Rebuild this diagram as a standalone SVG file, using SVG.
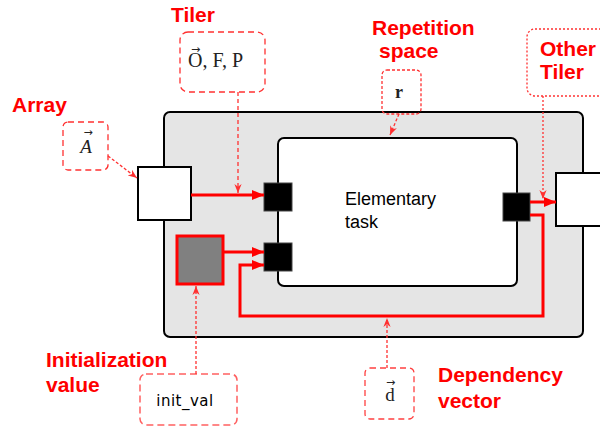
<svg xmlns="http://www.w3.org/2000/svg" width="600" height="428" viewBox="0 0 600 428">
<style>
.lbl{font-family:"Liberation Sans",Arial,sans-serif;font-weight:bold;font-size:21px;fill:#ff0000}
.red{fill:none;stroke:#ff0000;stroke-width:3}
.ann{fill:none;stroke:#ff3030;stroke-width:1.3}
.math{font-family:"Liberation Serif","DejaVu Serif",serif;fill:#222}
.vec{font-family:"DejaVu Sans",sans-serif;font-size:11px;fill:#222}
</style>
<defs>
<marker id="ah" viewBox="0 0 12 10" refX="12" refY="5" markerWidth="12" markerHeight="10" markerUnits="userSpaceOnUse" orient="auto">
<path d="M0,0 L12,5 L0,10 z" fill="#ff0000"/>
</marker>
<marker id="ad" viewBox="0 0 10 10" refX="10" refY="5" markerWidth="9" markerHeight="9" markerUnits="userSpaceOnUse" orient="auto">
<path d="M0,1 L10,5 L0,9 L3,5 z" fill="#ff3030"/>
</marker>
</defs>

<g id="container">
<rect x="164" y="112" width="419" height="225" rx="6" fill="#e5e5e5" stroke="#000" stroke-width="2"/>
</g>
<g id="elementary-task">
<rect x="278" y="138" width="239" height="148" rx="6" fill="#fff" stroke="#000" stroke-width="2"/>
<text x="345" y="205" font-family="Liberation Sans,Arial,sans-serif" font-size="18" fill="#000">Elementary</text>
<text x="345" y="228" font-family="Liberation Sans,Arial,sans-serif" font-size="18" fill="#000">task</text>
</g>
<g id="array-port">
<rect x="138" y="167" width="53" height="53" fill="#fff" stroke="#000" stroke-width="2"/>
</g>
<g id="output-port">
<rect x="556" y="173" width="50" height="53" fill="#fff" stroke="#000" stroke-width="2"/>
</g>
<g id="init-box">
<rect x="177" y="236" width="46" height="48" fill="#808080" stroke="#ff0000" stroke-width="3"/>
</g>
<g id="in-port-1"><rect x="264" y="183" width="28" height="28" fill="#000" stroke="#444" stroke-width="1"/></g>
<g id="in-port-2"><rect x="264" y="243" width="28" height="28" fill="#000" stroke="#444" stroke-width="1"/></g>
<g id="out-port"><rect x="503" y="193" width="27" height="28" fill="#000" stroke="#444" stroke-width="1"/></g>

<g id="tiler-ann">
<rect x="180" y="32" width="85" height="60" rx="8" class="ann" stroke-dasharray="6 4"/>
<text x="188" y="67" class="math" font-size="20">O, F, P</text>
<text x="195.5" y="53" class="vec" text-anchor="middle">→</text>
</g>
<g id="array-ann">
<rect x="63" y="122" width="45" height="48" rx="5" class="ann" stroke-dasharray="6 4"/>
<text x="86" y="153" class="math" font-size="19" font-style="italic" text-anchor="middle">A</text>
<text x="88" y="136" class="vec" font-size="10" text-anchor="middle">→</text>
</g>
<g id="rep-ann">
<rect x="382" y="70" width="39" height="44" rx="5" class="ann" stroke-dasharray="3 2"/>
<text x="399" y="98" class="math" font-size="18" font-weight="bold" text-anchor="middle">r</text>
</g>
<g id="other-tiler-ann">
<rect x="527" y="29" width="90" height="67" rx="8" class="ann" stroke-dasharray="2 2"/>
</g>
<g id="init-ann">
<rect x="140" y="374" width="97" height="51" rx="6" fill="none" stroke="#ff6060" stroke-width="1.5" stroke-dasharray="7 4"/>
<text x="185" y="406" font-family="DejaVu Sans,sans-serif" font-size="15" fill="#000" text-anchor="middle" letter-spacing="0.5">init_val</text>
</g>
<g id="dep-ann">
<rect x="365" y="368" width="49" height="51" rx="5" fill="none" stroke="#ff4040" stroke-width="1.3" stroke-dasharray="6 4"/>
<text x="390" y="401" class="math" font-size="19" text-anchor="middle">d</text>
<text x="390.5" y="386" class="vec" font-size="10" text-anchor="middle">→</text>
</g>

<g id="connectors">
<line x1="191" y1="195" x2="264" y2="195" class="red" marker-end="url(#ah)"/>
<line x1="223" y1="252" x2="264" y2="252" class="red" marker-end="url(#ah)"/>
<polyline points="530,215 543,215 543,316 240,316 240,265 264,265" class="red" marker-end="url(#ah)"/>
<line x1="530" y1="202" x2="556" y2="202" class="red" marker-end="url(#ah)"/>
<line x1="238" y1="92" x2="238" y2="193" class="ann" stroke-dasharray="4 3" marker-end="url(#ad)"/>
<line x1="108" y1="156" x2="137" y2="178" class="ann" stroke-dasharray="3 2" marker-end="url(#ad)"/>
<line x1="399" y1="114" x2="390" y2="135" class="ann" stroke-dasharray="3 2" marker-end="url(#ad)"/>
<line x1="543" y1="96" x2="543" y2="199" class="ann" stroke-dasharray="2 2" marker-end="url(#ad)"/>
<line x1="196" y1="374" x2="196" y2="286" class="ann" stroke-dasharray="3 2" marker-end="url(#ad)"/>
<line x1="387" y1="368" x2="387" y2="318" class="ann" stroke-dasharray="3 2" marker-end="url(#ad)"/>
</g>

<g id="labels">
<text x="171" y="22" class="lbl" font-size="20.5">Tiler</text>
<text x="12" y="112" class="lbl" font-size="20.5">Array</text>
<text x="372" y="35" class="lbl">Repetition</text>
<text x="379" y="58" class="lbl">space</text>
<text x="540" y="56" class="lbl" font-size="19">Other</text>
<text x="540" y="79" class="lbl" font-size="19">Tiler</text>
<text x="46" y="367" class="lbl">Initialization</text>
<text x="46" y="392" class="lbl">value</text>
<text x="438" y="382" class="lbl">Dependency</text>
<text x="438" y="408" class="lbl">vector</text>
</g>
</svg>
